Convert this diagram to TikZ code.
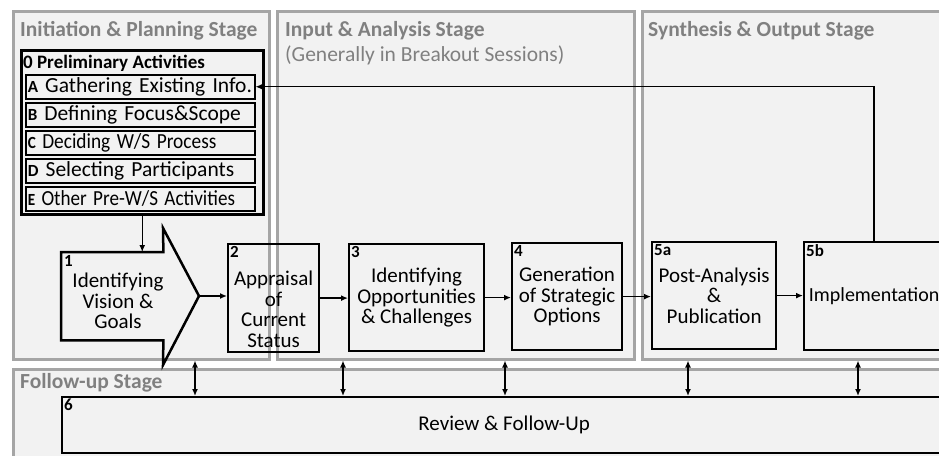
\documentclass[tikz,border=0pt]{standalone}
\usepackage{fontspec}
\usepackage{graphicx}
\setmainfont{Carlito}
\usetikzlibrary{arrows.meta, positioning}

\definecolor{stagefill}{HTML}{F2F2F2}
\definecolor{stageline}{HTML}{A5A5A5}
\definecolor{stagetext}{HTML}{808080}

\newcommand{\subkey}[1]{{\fontsize{17}{17}\selectfont\bfseries #1}}

\tikzset{
  stage/.style={draw=stageline, fill=stagefill, line width=2.5pt, anchor=north west, inner sep=0pt},
  stagetitle/.style={text=stagetext, font=\fontsize{21.5}{22}\selectfont\bfseries, anchor=base west, inner sep=0pt},
  subtitle/.style={text=stagetext, font=\fontsize{21.5}{22}\selectfont, anchor=base west, inner sep=0pt},
  proc/.style={draw, line width=2.2pt, anchor=north west, inner sep=0pt, align=center, font=\fontsize{21}{20.5}\selectfont},
  subbox/.style={draw, line width=1.5pt, anchor=north west, minimum height=24pt, text width=225pt, inner xsep=2pt, inner ysep=0pt, align=left, font=\fontsize{21.5}{22}\selectfont},
  numtag/.style={label={[anchor=north west, inner sep=3pt, font=\fontsize{17}{17}\selectfont\bfseries]north west:#1}},
  flow/.style={-{Latex[length=7pt,width=6pt]}, line width=1.4pt},
  both/.style={{Latex[length=7pt,width=6pt]}-{Latex[length=7pt,width=6pt]}, line width=1.4pt},
}

\begin{document}
\begin{tikzpicture}[x=1pt, y=-1pt]
  \useasboundingbox (0,0) rectangle (939,455);
  \clip (0,0) rectangle (939,455);

  \node[stage, minimum width=256pt, minimum height=348pt] (init) at (12,10) {};
  \node[stage, minimum width=357pt, minimum height=348pt] (input) at (276,10) {};
  \node[stage, minimum width=330pt, minimum height=348pt] (synth) at (641,10) {};
  \node[stage, minimum width=960pt, minimum height=120pt] (follow) at (12,368) {};

  \node[stagetitle] (inittitle) at (20,36) {Initiation \& Planning Stage};
  \node[stagetitle] (inputtitle) at (285,36) {Input \& Analysis Stage};
  \node[subtitle] (inputsub) at (285,61) {(Generally in Breakout Sessions)};
  \node[stagetitle] (synthtitle) at (648,36) {Synthesis \& Output Stage};
  \node[stagetitle] (followtitle) at (20,388) {Follow-up Stage};

  \node[draw, line width=2.5pt, anchor=north west, minimum width=242pt, minimum height=164pt] (prelim) at (20,49) {};
  \node[anchor=base west, inner sep=0pt, font=\fontsize{19}{19}\selectfont\bfseries] (prelimtitle) at (23,68) {0 Preliminary Activities};
  \node[subbox] (subA) at (25,74) {\subkey{A} Gathering Existing Info.};
  \node[subbox, below=2.5pt of subA] (subB) {\subkey{B} Defining Focus\&Scope};
  \node[subbox, below=2.5pt of subB] (subC) {\scalebox{0.9}[1]{\subkey{C} Deciding W/S Process}};
  \node[subbox, below=2.5pt of subC] (subD) {\subkey{D} Selecting Participants};
  \node[subbox, below=2.5pt of subD] (subE) {\scalebox{0.89}[1]{\subkey{E} Other Pre-W/S Activities}};

  \node[anchor=north west, inner sep=0pt, minimum width=102pt, minimum height=88pt, numtag=1] (vision) at (61,252) {};
  \coordinate (tip) at (199,296);
  \draw[line width=2.5pt] (vision.north west) -- (vision.north east) -- (163,228) -- (tip)
    -- (163,365) -- (vision.south east) -- (vision.south west) -- cycle;
  \node[align=center, inner sep=0pt, font=\fontsize{21}{20.5}\selectfont] (visiontext) at (118,301) {Identifying\\Vision \&\\Goals};

  \node[proc, minimum width=91pt, minimum height=108pt, numtag=2] (appr) at (227,243) {\rule{0pt}{37pt}Appraisal\\of\\Current\\Status};
  \node[proc, minimum width=135pt, minimum height=107pt, numtag=3] (opp) at (348,243) {Identifying\\Opportunities\\\& Challenges};
  \node[proc, minimum width=110pt, minimum height=107pt, numtag=4] (gen) at (511,242) {Generation\\of Strategic\\Options};
  \node[proc, minimum width=124pt, minimum height=107pt, numtag=5a] (post) at (651,241) {Post-Analysis\\\&\\Publication};
  \node[proc, minimum width=140pt, minimum height=108pt, numtag=5b, font=\fontsize{20}{20.5}\selectfont] (impl) at (803,241) {Implementation};
  \node[proc, minimum width=884pt, minimum height=56pt, numtag=6] (review) at (61,396) {Review \& Follow-Up};

  \draw[flow] (prelim.south) -- (prelim.south |- vision.north);
  \draw[flow] (tip) -- (tip -| appr.west);
  \draw[flow] (appr.east) -- (appr.east -| opp.west);
  \draw[flow] (opp.east) -- (opp.east -| gen.west);
  \draw[flow] (gen.east) -- (gen.east -| post.west);
  \draw[flow] (post.east) -- (post.east -| impl.west);
  \draw[flow] (impl.north) |- (subA.east);

  \foreach \x in {195,343,505,688,858}
    \draw[both] (init.south -| \x,0) -- (review.north -| \x,0);
\end{tikzpicture}
\end{document}
